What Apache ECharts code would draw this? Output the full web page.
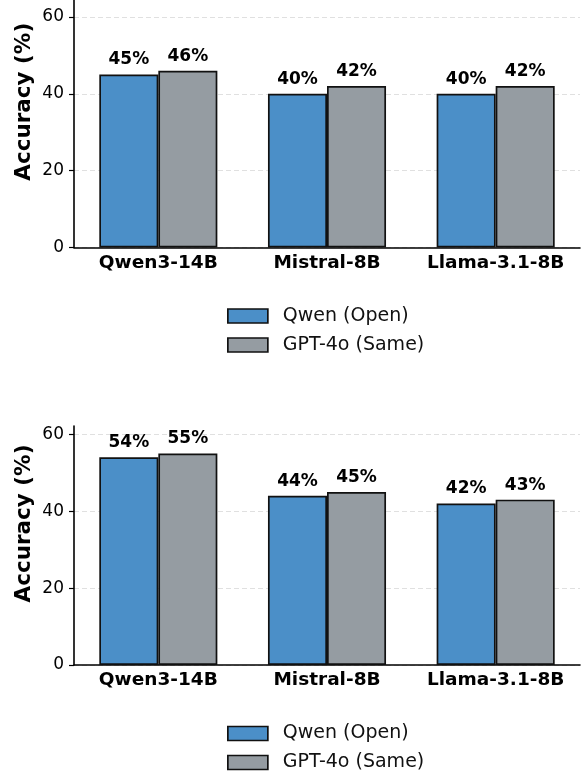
<!DOCTYPE html>
<html><head><meta charset="utf-8">
<script src="https://cdn.jsdelivr.net/npm/echarts@6/dist/echarts.min.js"></script>
<style>html,body{margin:0;padding:0;background:#fff}#c{width:583px;height:775px}</style>
</head><body><div id="c"></div>
<script>
const categories = ['Qwen3-14B', 'Mistral-8B', 'Llama-3.1-8B'];
const seriesNames = ['Qwen (Open)', 'GPT-4o (Same)'];
const topQwen = [45, 40, 40];
const topGPT = [46, 42, 42];
const botQwen = [54, 44, 42];
const botGPT = [55, 45, 43];
const yTicks = [0, 20, 40, 60];

const FONT = 'DejaVu Sans';
const colors = ['#4b8fc8', '#959ca2'];
const chart = echarts.init(document.getElementById('c'), null, {renderer: 'canvas'});

function xAxis(grid) {
  return {
    type: 'category', gridIndex: grid, data: categories,
    axisLine: {lineStyle: {color: '#000', width: 1.6}},
    axisTick: {alignWithLabel: true, length: 5, lineStyle: {color: '#000', width: 1.2}},
    axisLabel: {interval: 0, hideOverlap: false, color: '#000', fontFamily: FONT,
      fontSize: 18.5, fontWeight: 'bold', margin: 6}
  };
}
function yAxis(grid, max) {
  return {
    type: 'value', gridIndex: grid, min: 0, max: max, interval: 20,
    name: 'Accuracy (%)', nameLocation: 'middle', nameGap: 39, nameRotate: 90,
    nameMoveOverlap: false,
    nameTextStyle: {color: '#000', fontFamily: FONT, fontSize: 21.5, fontWeight: 'bold',
      padding: [0, 0, 0, 44]},
    axisLine: {show: true, lineStyle: {color: '#000', width: 1.6}},
    axisTick: {show: true, length: 5, lineStyle: {color: '#000', width: 1.2},
      customValues: yTicks},
    axisLabel: {color: '#000', fontFamily: FONT, fontSize: 17, margin: 10,
      customValues: yTicks},
    splitLine: {show: true, lineStyle: {color: '#dddddd', type: [5, 3], width: 0.9}}
  };
}
function bar(name, data, idx, color) {
  return {
    name: name, type: 'bar', xAxisIndex: idx, yAxisIndex: idx, data: data,
    barWidth: '35%', barGap: '0%',
    itemStyle: {color: color, borderColor: '#111', borderWidth: 1.7},
    label: {show: true, position: 'top', distance: 6, formatter: '{c}%',
      color: '#000', fontFamily: FONT, fontSize: 17, fontWeight: 'bold'}
  };
}
function legend(top) {
  return {
    orient: 'vertical', left: 227, top: top, padding: 0,
    itemWidth: 40, itemHeight: 14, itemGap: 10,
    icon: 'rect', data: seriesNames,
    textStyle: {color: '#111', fontFamily: FONT, fontSize: 19, padding: [0, 0, 0, 10]},
    itemStyle: {borderColor: '#111', borderWidth: 1.7}
  };
}

chart.setOption({
  animation: false,
  color: colors,
  grid: [
    {left: 74, right: 3, top: 0, height: 247.5},
    {left: 74, right: 3, top: 426, height: 239}
  ],
  xAxis: [xAxis(0), xAxis(1)],
  yAxis: [yAxis(0, 64.4), yAxis(1, 62.15)],
  legend: [legend(306.5), legend(724)],
  series: [
    bar(seriesNames[0], topQwen, 0, colors[0]),
    bar(seriesNames[1], topGPT, 0, colors[1]),
    bar(seriesNames[0], botQwen, 1, colors[0]),
    bar(seriesNames[1], botGPT, 1, colors[1])
  ]
});
</script></body></html>
